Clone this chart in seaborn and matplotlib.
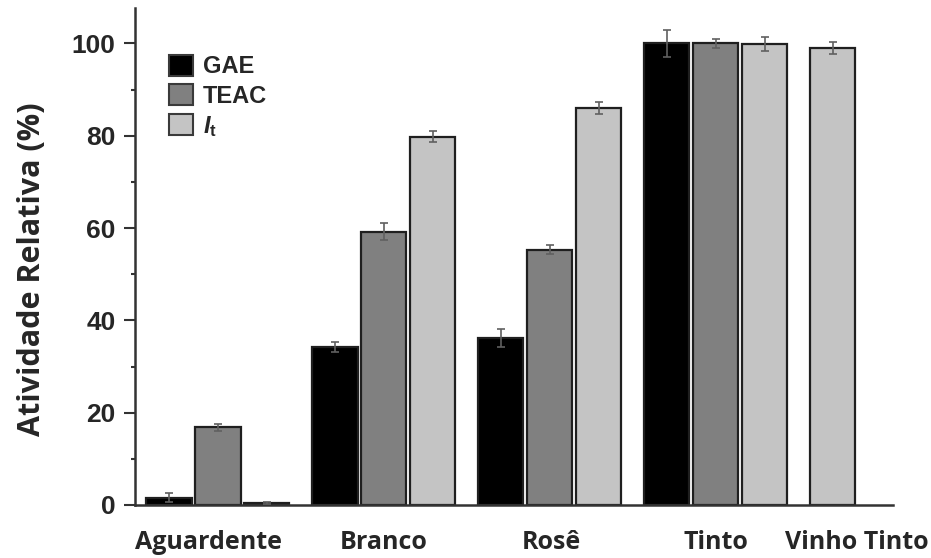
import numpy as np
import pandas as pd
import seaborn as sns
import matplotlib.pyplot as plt
from matplotlib.patches import Patch

categories = ['Aguardente', 'Branco', 'Rosê', 'Tinto', 'Vinho Tinto']
series = ['GAE', 'TEAC', 'It']
gae = [1.6, 34.2, 36.2, 100.0, np.nan]
teac = [16.8, 59.2, 55.3, 100.0, np.nan]
it_vals = [0.4, 79.8, 85.9, 99.8, 99.0]
gae_err = [1.0, 1.0, 2.0, 3.0, np.nan]
teac_err = [0.8, 1.8, 1.0, 1.0, np.nan]
it_err = [0.2, 1.2, 1.3, 1.5, 1.3]

colors = {'GAE': '#000000', 'TEAC': '#808080', 'It': '#c4c4c4'}
legend_labels = ['GAE', 'TEAC', r'$\mathit{I}_{\mathrm{t}}$']

values = {'GAE': gae, 'TEAC': teac, 'It': it_vals}
errors = {'GAE': gae_err, 'TEAC': teac_err, 'It': it_err}

rows = []
for i, c in enumerate(categories):
    present = [s for s in series if not np.isnan(values[s][i])]
    for k, s in enumerate(present):
        # a category with a single bar is drawn in the first slot
        slot = series[0] if len(present) == 1 else s
        rows.append({'cat': c, 'series': s, 'slot': slot,
                     'val': values[s][i], 'err': errors[s][i]})
df = pd.DataFrame(rows)

sns.set_style('ticks')
plt.rcParams['font.family'] = ['Liberation Sans', 'DejaVu Sans']
plt.rcParams['mathtext.fontset'] = 'custom'
plt.rcParams['mathtext.it'] = 'Liberation Sans:italic:bold'
plt.rcParams['mathtext.rm'] = 'Liberation Sans:bold'

fig = plt.figure(figsize=(9.31, 5.58), dpi=100)
ax = fig.add_axes([0.145, 0.095, 0.814, 0.891])

sns.barplot(data=df, x='cat', y='val', hue='slot', order=categories,
            hue_order=series, palette=colors, width=0.885, gap=0.08,
            edgecolor='#1f1f1f', linewidth=1.6, errorbar=None,
            legend=False, ax=ax)

for slot, cont in zip(series, ax.containers):
    sub = df[df['slot'] == slot]
    for bar in cont:
        xc = bar.get_x() + bar.get_width() / 2
        idx = int(round(xc))
        r = sub[sub['cat'] == categories[idx]]
        if r.empty:
            continue
        r = r.iloc[0]
        bar.set_facecolor(colors[r['series']])
        ax.errorbar(xc, r['val'], yerr=r['err'], fmt='none', ecolor='#606060',
                    elinewidth=1.2, capsize=3, capthick=1.2, zorder=5)

ax.set_xlim(-0.5, 4.066)
ax.set_ylim(0, 107.7)
ax.set_yticks([0, 20, 40, 60, 80, 100])
ax.set_yticks([10, 30, 50, 70, 90], minor=True)
ax.tick_params(axis='y', which='major', length=8, width=1.5, color='#333333',
               labelsize=19, pad=6)
ax.tick_params(axis='y', which='minor', length=3, width=1.5, color='#333333')
for lab in ax.get_yticklabels():
    lab.set_fontweight('bold')

ax.set_xticks([-0.06, 1.0, 2.01, 3.0, 3.85])
ax.set_xticklabels(categories, fontfamily=['Open Sans', 'DejaVu Sans'],
                   fontweight='bold', fontsize=18)
ax.tick_params(axis='x', length=0, pad=18)
ax.set_xlabel('')

ax.set_ylabel('Atividade Relativa (%)', fontfamily=['Open Sans', 'DejaVu Sans'],
              fontweight='bold', fontsize=22)
ax.yaxis.set_label_coords(-0.116, 0.475)

for sp in ['top', 'right']:
    ax.spines[sp].set_visible(False)
for sp in ['left', 'bottom']:
    ax.spines[sp].set_linewidth(1.8)
    ax.spines[sp].set_color('#333333')

handles = [Patch(facecolor=colors[s], edgecolor='#3a3a3a', linewidth=1.5)
           for s in series]
leg = ax.legend(handles, legend_labels, loc='upper left',
                bbox_to_anchor=(0.033, 0.925), frameon=False,
                handlelength=1.0, handleheight=1.0, handletextpad=0.4,
                labelspacing=0.25, borderaxespad=0,
                prop={'family': 'Liberation Sans', 'weight': 'bold', 'size': 17})

fig.savefig('out.png', dpi=100)
